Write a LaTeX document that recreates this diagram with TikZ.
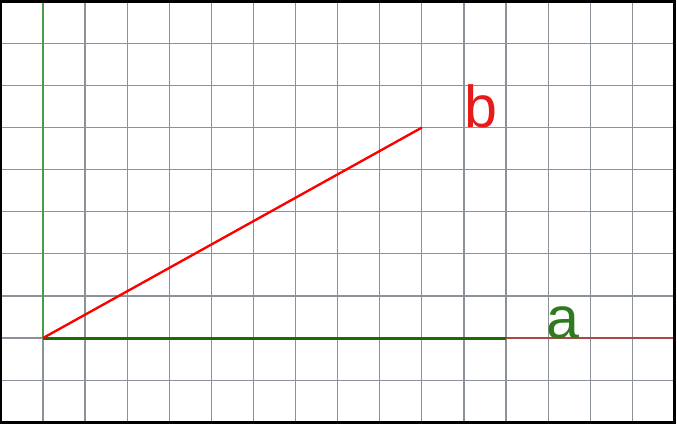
\documentclass[tikz,border=0pt]{standalone}
\usepackage{fontspec}
\setmainfont{Liberation Sans}
\definecolor{gridgray}{HTML}{8C929A}
\definecolor{axisgreen}{HTML}{4C9A4C}
\definecolor{segA}{HTML}{1E6B00}
\definecolor{labA}{HTML}{2F7A1E}
\definecolor{brownline}{HTML}{A84848}
\definecolor{segB}{HTML}{FF0000}
\definecolor{labB}{HTML}{E81B1B}
\begin{document}
\begin{tikzpicture}[
  gridline/.style={draw=gridgray, line width=0.8pt},
  lab/.style={font=\fontsize{40}{40}\selectfont, inner sep=0pt}
]
\useasboundingbox (-1.02,-2.06) rectangle (15.06,8.03);
\draw[gridline] (-1,-2) grid (15,8);
\coordinate (O) at (0,0);
\coordinate (T) at (0,8);
\coordinate (A) at (11,0);
\coordinate (E) at (15,0);
\coordinate (B) at (9,5);
\draw[axisgreen, line width=1pt] (O) -- (T);
\draw[brownline, line width=1pt] (A) -- (E);
\draw[segA, line width=2.1pt] (O) -- (A);
\draw[segB, line width=1.6pt] (O) -- (B);
\node[lab, text=labB, anchor=base] (lb) at (10.40,4.99) {b};
\node[lab, text=labA, anchor=base] (la) at (12.36,0.0) {a};
\draw[black, line width=2.2pt] (-1,-2) rectangle (15,8);
\end{tikzpicture}
\end{document}
